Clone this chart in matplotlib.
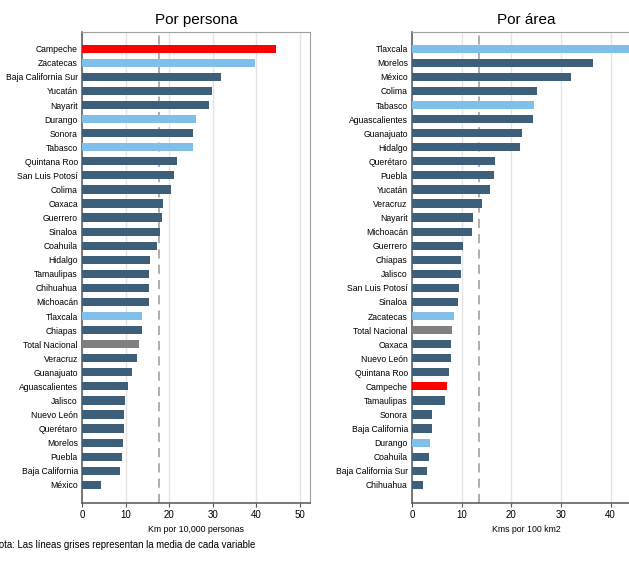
import matplotlib
matplotlib.use("Agg")
import matplotlib.pyplot as plt
import numpy as np

# Datos: kilómetros de carretera por estado
estados_persona = ["Campeche", "Zacatecas", "Baja California Sur", "Yucatán", "Nayarit",
                   "Durango", "Sonora", "Tabasco", "Quintana Roo", "San Luis Potosí",
                   "Colima", "Oaxaca", "Guerrero", "Sinaloa", "Coahuila", "Hidalgo",
                   "Tamaulipas", "Chihuahua", "Michoacán", "Tlaxcala", "Chiapas",
                   "Total Nacional", "Veracruz", "Guanajuato", "Aguascalientes", "Jalisco",
                   "Nuevo León", "Querétaro", "Morelos", "Puebla", "Baja California", "México"]
valores_persona = [44.6, 39.7, 31.8, 29.9, 29.1, 26.1, 25.4, 25.4, 21.9, 21.2,
                   20.5, 18.5, 18.4, 18.0, 17.3, 15.7, 15.4, 15.4, 15.4, 13.8, 13.8,
                   13.1, 12.5, 11.5, 10.5, 9.8, 9.7, 9.6, 9.3, 9.2, 8.8, 4.4]
media_persona = 17.7

estados_area = ["Tlaxcala", "Morelos", "México", "Colima", "Tabasco", "Aguascalientes",
                "Guanajuato", "Hidalgo", "Querétaro", "Puebla", "Yucatán", "Veracruz",
                "Nayarit", "Michoacán", "Guerrero", "Chiapas", "Jalisco", "San Luis Potosí",
                "Sinaloa", "Zacatecas", "Total Nacional", "Oaxaca", "Nuevo León",
                "Quintana Roo", "Campeche", "Tamaulipas", "Sonora", "Baja California",
                "Durango", "Coahuila", "Baja California Sur", "Chihuahua"]
valores_area = [45.0, 36.4, 32.1, 25.2, 24.6, 24.4, 22.1, 21.7, 16.8, 16.6, 15.8, 14.1,
                12.3, 12.0, 10.3, 9.9, 9.8, 9.5, 9.3, 8.4, 8.0, 7.9, 7.8, 7.4, 7.0, 6.7,
                4.1, 4.0, 3.7, 3.4, 3.1, 2.3]
media_area = 13.5

# Colores por estado
rojo = ["Campeche"]
celeste = ["Zacatecas", "Durango", "Tabasco", "Tlaxcala"]
gris = ["Total Nacional"]

OSCURO = "#3d5f79"
CELESTE = "#80bfe9"
ROJO = "#ff0000"
GRIS = "#808080"


def color(e):
    if e in rojo:
        return ROJO
    if e in celeste:
        return CELESTE
    if e in gris:
        return GRIS
    return OSCURO


plt.rcParams['font.family'] = ['Liberation Sans', 'DejaVu Sans']

fig = plt.figure(figsize=(6.29, 5.65), dpi=100)


def panel(pos, estados, valores, media, titulo, xlabel, xmax, ticks):
    ax = fig.add_axes(pos)
    y = np.arange(len(estados))
    ax.barh(y, valores, height=0.58, color=[color(e) for e in estados], zorder=3)
    ax.axvline(media, color="#999999", lw=1.1, ls=(0, (6, 4)), zorder=2)
    ax.set_yticks(y)
    ax.set_yticklabels(estados, fontsize=6.2)
    ax.set_ylim(len(estados) - 1 + 1.27, -1.19)
    ax.set_xlim(0, xmax)
    ax.set_xticks(ticks)
    ax.tick_params(axis="y", length=0, pad=3)
    ax.tick_params(axis="x", length=3, labelsize=7, color="#555555", pad=2)
    ax.grid(axis="x", color="#e4e4e4", lw=1, zorder=0)
    for s in ["top", "right"]:
        ax.spines[s].set_color("#a0a0a0")
    for s in ["left", "bottom"]:
        ax.spines[s].set_color("#555555")
        ax.spines[s].set_linewidth(1.1)
    ax.set_title(titulo, fontsize=11, pad=6)
    ax.set_xlabel(xlabel, fontsize=6.3, labelpad=4)
    return ax


panel([0.1304, 0.1103, 0.3625, 0.833], estados_persona, valores_persona, media_persona,
      "Por persona", "Km por 10,000 personas", 52.3, [0, 10, 20, 30, 40, 50])
panel([0.655, 0.1103, 0.364, 0.833], estados_area, valores_area, media_area,
      "Por área", "Kms por 100 km2", 46.1, [0, 10, 20, 30, 40])

fig.text(-0.012, 0.035, "Nota: Las líneas grises representan la media de cada variable",
         fontsize=6.9, va="center")

fig.savefig("out.png", dpi=100)
